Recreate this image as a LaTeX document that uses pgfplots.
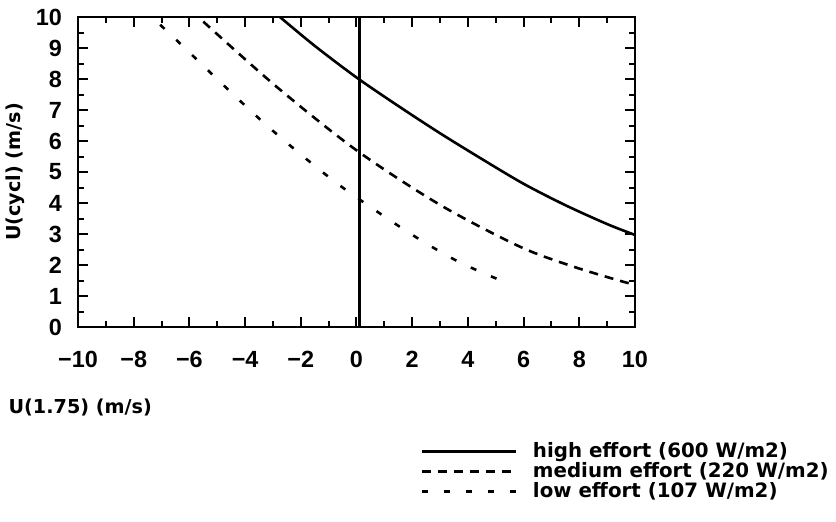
\documentclass[border=0pt]{standalone}
\usepackage{fontspec}
\setmainfont{DejaVu Sans}
\newfontfamily\tickfont{Liberation Sans}
\usepackage{pgfplots}
\pgfplotsset{compat=1.18}

\pgfplotstableread{
x y
-2.75 10.00
-1.50 9.07
0.00 8.05
1.50 7.13
3.00 6.25
4.50 5.42
6.00 4.62
7.50 3.93
9.00 3.32
10.00 2.97
}\high

\pgfplotstableread{
x y
-5.50 9.85
-2.87 7.75
0.00 5.70
3.00 3.94
5.87 2.59
7.78 1.95
9.58 1.46
10.00 1.38
}\medium

\pgfplotstableread{
x y
-7.05 9.75
-6.34 9.15
-4.54 7.60
-3.22 6.50
-1.91 5.50
-0.65 4.60
0.78 3.70
2.22 2.85
3.72 2.08
5.45 1.40
}\low

\begin{document}
\begin{tikzpicture}
\begin{axis}[
    name=ax,
    scale only axis,
    width=278.5pt, height=155pt,
    xmin=-10, xmax=10, ymin=0, ymax=10,
    axis line style={line width=1.2pt},
    tick align=inside,
    tick style={black, line width=1pt},
    major tick length=5pt, minor tick length=3pt,
    xtick={-10,-8,...,10},
    xticklabels={−10,−8,−6,−4,−2,0,2,4,6,8,10},
    ytick={0,1,...,10},
    minor x tick num=1, minor y tick num=1,
    ticklabel style={font=\tickfont\bfseries\fontsize{11.7}{13}\selectfont},
    /pgf/number format/assume math mode=true,
    xticklabel shift=8.5pt, yticklabel shift=4.5pt,
    xlabel={U(1.75) (m/s)},
    ylabel={U(cycl) (m/s)},
    label style={font=\bfseries\fontsize{9.6}{11}\selectfont},
    xlabel style={at={(axis description cs:0.004,-0.26)}, anchor=center},
    ylabel style={at={(axis description cs:-0.113,0.5)}, anchor=center},
    legend style={at={(axis description cs:0.614,-0.358)}, anchor=north west,
        draw=none, fill=none, inner sep=0pt, row sep=-3pt,
        font=\bfseries\fontsize{9.9}{11.5}\selectfont},
    legend cell align=left,
    legend image code/.code={\draw[#1] (0pt,0pt) -- (47pt,0pt);},
]
\addplot[black, line width=1.3pt, smooth] table {\high};
\addplot[black, line width=1.3pt, smooth, dash pattern=on 4.5pt off 3.5pt] table {\medium};
\addplot[black, line width=1.3pt, smooth, dash pattern=on 3pt off 8pt] table {\low};
\addplot[black, line width=1.4pt, forget plot] coordinates {(0.1,0) (0.1,10)};
\legend{\hspace{6pt}high effort (600 W/m2), \hspace{6pt}medium effort (220 W/m2), \hspace{6pt}low effort (107 W/m2)}
\end{axis}
\pgfresetboundingbox
\path[use as bounding box] ([shift={(-39pt,-97pt)}]ax.south west) rectangle ([shift={(100.5pt,8.5pt)}]ax.north east);
\end{tikzpicture}
\end{document}
